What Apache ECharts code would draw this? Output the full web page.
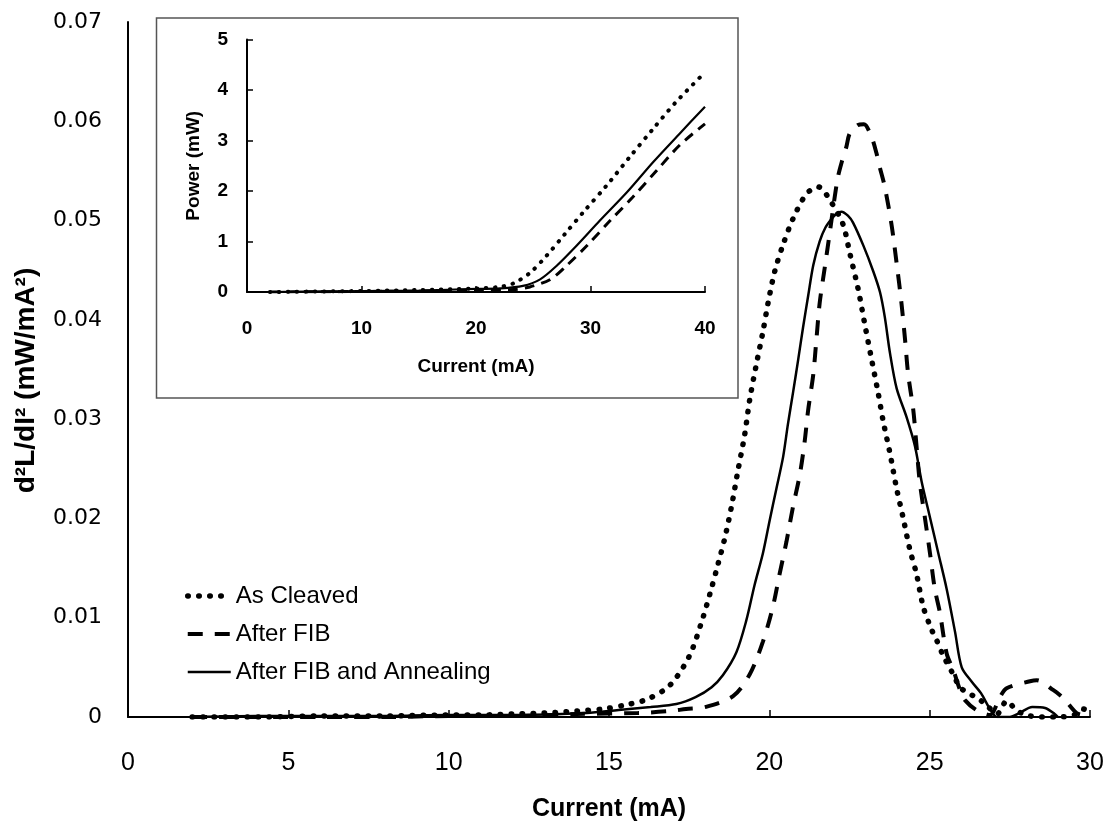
<!DOCTYPE html>
<html>
<head>
<meta charset="utf-8">
<script src="https://cdn.jsdelivr.net/npm/echarts@6/dist/echarts.min.js"></script>
<style>
html,body{margin:0;padding:0;background:#fff;}
#chart{width:1115px;height:832px;}
</style>
</head>
<body>
<div id="chart"></div>
<script>
// ---- Main chart: d2L/dI2 vs current ----
const cleavedI = [2, 4, 6, 8, 10, 11, 12, 13, 14, 14.8, 15.5, 16.2, 16.9, 17.5, 17.9, 18.19, 18.4, 18.61, 18.82, 19.02, 19.23, 19.39, 19.6, 19.8, 19.96, 20.17, 20.42, 20.74, 21.16, 21.52, 21.94, 22.3, 22.51, 22.77, 22.98, 23.19, 23.39, 23.55, 23.76, 23.97, 24.17, 24.38, 24.59, 24.8, 25.06, 25.21, 25.42, 25.7, 25.95, 26.2, 26.5, 26.8, 27.1, 27.4, 27.7, 28.0, 28.5, 29.0, 29.5, 29.8, 30.0];
const cleavedD = [0, 0, 0.0001, 0.0001, 0.0002, 0.0002, 0.0003, 0.0004, 0.0006, 0.0008, 0.0012, 0.0018, 0.0032, 0.0061, 0.0097, 0.0129, 0.0154, 0.0180, 0.0212, 0.0248, 0.0284, 0.0320, 0.0356, 0.0388, 0.0417, 0.0449, 0.0475, 0.0502, 0.0527, 0.0534, 0.0518, 0.0496, 0.0467, 0.0431, 0.0395, 0.0360, 0.0327, 0.0298, 0.0266, 0.0230, 0.0201, 0.0169, 0.0144, 0.0111, 0.0088, 0.0078, 0.0062, 0.0045, 0.0030, 0.0024, 0.0019, 0.0011, 0.0003, 0.0016, 0.0007, 0.0002, 0, 0, 0.0002, 0.0008, 0.0003];

const fibI = [2, 4, 6, 8, 10, 12, 14, 15.9, 16.9, 17.4, 18.0, 18.87, 19.39, 19.8, 20.11, 20.32, 20.53, 20.74, 20.95, 21.1, 21.21, 21.37, 21.47, 21.57, 21.73, 21.89, 22.04, 22.14, 22.25, 22.4, 22.51, 22.75, 22.95, 23.19, 23.34, 23.45, 23.6, 23.81, 23.97, 24.12, 24.23, 24.33, 24.49, 24.59, 24.69, 24.85, 25.01, 25.16, 25.32, 25.53, 25.74, 25.95, 26.1, 26.46, 26.88, 27.19, 27.4, 28.13, 28.34, 28.86, 29.17, 29.58, 29.8, 30.0];
const fibD = [0, 0, 0, 0, 0.0001, 0.0001, 0.0003, 0.0004, 0.0006, 0.0008, 0.0010, 0.0021, 0.0043, 0.0076, 0.0111, 0.0144, 0.0176, 0.0212, 0.0244, 0.0277, 0.0309, 0.0345, 0.0381, 0.0417, 0.0453, 0.0489, 0.0524, 0.0544, 0.0558, 0.0574, 0.0588, 0.0596, 0.0597, 0.0584, 0.0568, 0.0553, 0.0534, 0.0496, 0.0457, 0.0417, 0.0381, 0.0345, 0.0309, 0.0273, 0.0237, 0.0201, 0.0165, 0.0129, 0.0105, 0.0064, 0.0047, 0.0027, 0.0017, 0.0007, 0.0002, 0.0020, 0.0029, 0.0036, 0.0037, 0.0027, 0.0019, 0.0004, 0.0002, 0.0007];

const annealI = [2, 4, 6, 8, 10, 12.2, 14.3, 15.3, 16.3, 17.1, 17.7, 18.2, 18.55, 18.97, 19.28, 19.54, 19.8, 20.01, 20.22, 20.43, 20.58, 20.74, 20.9, 21.05, 21.21, 21.37, 21.57, 21.75, 21.95, 22.1, 22.25, 22.45, 22.61, 22.93, 23.24, 23.45, 23.6, 23.76, 23.97, 24.28, 24.54, 24.75, 25.01, 25.27, 25.53, 25.79, 26.0, 26.3, 26.6, 26.9, 27.1, 27.5, 27.8, 28.2, 28.6, 28.9, 29.0];
const annealD = [0, 0.0001, 0.0001, 0.0001, 0.0002, 0.0002, 0.0004, 0.0007, 0.0010, 0.0013, 0.0020, 0.0030, 0.0042, 0.0065, 0.0097, 0.0133, 0.0165, 0.0198, 0.0230, 0.0262, 0.0295, 0.0327, 0.0360, 0.0392, 0.0424, 0.0455, 0.0479, 0.0493, 0.0502, 0.0507, 0.0509, 0.0505, 0.0498, 0.0475, 0.0449, 0.0428, 0.0403, 0.0367, 0.0331, 0.0302, 0.0273, 0.0237, 0.0201, 0.0165, 0.0129, 0.0086, 0.0050, 0.0036, 0.0024, 0.0007, 0, 0, 0.0004, 0.0010, 0.0009, 0.0003, 0];

// ---- Inset: power vs current ----
const insetCleavedI = [2, 10, 15, 20, 22, 23.26, 24.72, 26.17, 27.77, 29.37, 31.41, 33.45, 35.5, 37.5, 40];
const insetCleavedP = [0, 0.02, 0.04, 0.07, 0.10, 0.17, 0.38, 0.72, 1.15, 1.58, 2.11, 2.68, 3.24, 3.77, 4.35];
const insetFibI = [2, 10, 15, 20, 23.3, 24.7, 26.5, 27.9, 29.7, 31.7, 33.7, 35.8, 37.8, 40];
const insetFibP = [0, 0.01, 0.02, 0.04, 0.05, 0.10, 0.25, 0.52, 0.92, 1.41, 1.88, 2.41, 2.91, 3.33];
const insetAnnealI = [2, 10, 15, 20, 22.1, 24.1, 25.6, 27.05, 28.8, 30.8, 33.2, 35.5, 37.8, 40];
const insetAnnealP = [0, 0.02, 0.03, 0.06, 0.07, 0.12, 0.25, 0.52, 0.92, 1.41, 1.98, 2.58, 3.14, 3.67];

const seriesNames = ['As Cleaved', 'After FIB', 'After FIB and Annealing'];

const zip = (xs, ys) => xs.map((x, i) => [x, ys[i]]);

const dotMain = {color: '#000', width: 5.5, type: [0.5, 10.5], cap: 'round'};
const dashMain = {color: '#000', width: 4, type: [15, 12], cap: 'butt'};
const solidMain = {color: '#000', width: 2.5, type: 'solid'};
const dotInset = {color: '#000', width: 4, type: [0.5, 8.5], cap: 'round'};
const dashInset = {color: '#000', width: 3, type: [10, 7], cap: 'butt'};
const solidInset = {color: '#000', width: 2.2, type: 'solid'};
const hiddenSymbol = {color: 'rgba(0,0,0,0)', borderWidth: 0, opacity: 0};

const chart = echarts.init(document.getElementById('chart'), null, {renderer: 'canvas'});

const tickFont = 'Liberation Sans';
const option = {
  backgroundColor: '#fff',
  animation: false,
  graphic: [{
    type: 'rect',
    z: -10,
    shape: {x: 156.5, y: 18, width: 581.5, height: 380},
    style: {fill: '#fff', stroke: '#555', lineWidth: 1.5}
  }],
  legend: {
    orient: 'vertical',
    left: 180,
    top: 579,
    itemWidth: 43,
    itemHeight: 14,
    itemGap: 14,
    textStyle: {fontFamily: tickFont, fontSize: 24, color: '#000'},
    data: [
      {name: seriesNames[0], lineStyle: dotMain, itemStyle: hiddenSymbol},
      {name: seriesNames[1], lineStyle: dashMain, itemStyle: hiddenSymbol},
      {name: seriesNames[2], lineStyle: solidMain, itemStyle: hiddenSymbol}
    ]
  },
  grid: [
    {left: 128, top: 22, width: 962, height: 695},
    {left: 247, top: 39.5, width: 458, height: 252.5}
  ],
  xAxis: [{
    gridIndex: 0, type: 'value', min: 0, max: 30, interval: 5,
    name: 'Current (mA)', nameLocation: 'middle', nameGap: 80,
    nameTextStyle: {fontFamily: tickFont, fontWeight: 'bold', fontSize: 25, color: '#000'},
    axisLine: {lineStyle: {color: '#000', width: 2}},
    axisTick: {inside: true, length: 7, lineStyle: {color: '#000', width: 1.5}},
    axisLabel: {margin: 34, fontFamily: tickFont, fontSize: 25, color: '#000'},
    splitLine: {show: false}
  }, {
    gridIndex: 1, type: 'value', min: 0, max: 40, interval: 10,
    name: 'Current (mA)', nameLocation: 'middle', nameGap: 65,
    nameTextStyle: {fontFamily: tickFont, fontWeight: 'bold', fontSize: 19, color: '#000'},
    axisLine: {lineStyle: {color: '#000', width: 2}},
    axisTick: {inside: true, length: 6, lineStyle: {color: '#000', width: 1.5}},
    axisLabel: {margin: 27, fontFamily: tickFont, fontWeight: 'bold', fontSize: 19, color: '#000'},
    splitLine: {show: false}
  }],
  yAxis: [{
    gridIndex: 0, type: 'value', min: 0, max: 0.07, interval: 0.01,
    name: 'd\u00b2L/dI\u00b2 (mW/mA\u00b2)', nameLocation: 'middle', nameGap: 88, nameRotate: 90,
    nameTextStyle: {fontFamily: tickFont, fontWeight: 'bold', fontSize: 28, color: '#000', padding: [0, 22, 0, 0]},
    axisLine: {show: true, lineStyle: {color: '#000', width: 2}},
    axisTick: {show: false},
    axisLabel: {margin: 26, fontFamily: 'DejaVu Sans', fontSize: 22, color: '#000',
      formatter: v => (v === 0 ? '0' : v.toFixed(2))},
    splitLine: {show: false}
  }, {
    gridIndex: 1, type: 'value', min: 0, max: 5, interval: 1,
    name: 'Power (mW)', nameLocation: 'middle', nameGap: 44, nameRotate: 90,
    nameTextStyle: {fontFamily: tickFont, fontWeight: 'bold', fontSize: 19, color: '#000'},
    axisLine: {show: true, lineStyle: {color: '#000', width: 2}},
    axisTick: {show: true, inside: true, length: 6, lineStyle: {color: '#000', width: 1.5}},
    axisLabel: {margin: 19, fontFamily: tickFont, fontWeight: 'bold', fontSize: 19, color: '#000'},
    splitLine: {show: false}
  }],
  series: [
    {name: seriesNames[0], type: 'line', xAxisIndex: 0, yAxisIndex: 0, data: zip(cleavedI, cleavedD), smooth: 0.3, symbol: 'none', lineStyle: dotMain, itemStyle: {color: '#000'}},
    {name: seriesNames[1], type: 'line', xAxisIndex: 0, yAxisIndex: 0, data: zip(fibI, fibD), smooth: 0.3, symbol: 'none', lineStyle: dashMain, itemStyle: {color: '#000'}},
    {name: seriesNames[2], type: 'line', xAxisIndex: 0, yAxisIndex: 0, data: zip(annealI, annealD), smooth: 0.3, symbol: 'none', lineStyle: solidMain, itemStyle: {color: '#000'}},
    {name: seriesNames[0], type: 'line', xAxisIndex: 1, yAxisIndex: 1, data: zip(insetCleavedI, insetCleavedP), smooth: 0.3, symbol: 'none', lineStyle: dotInset, itemStyle: {color: '#000'}},
    {name: seriesNames[1], type: 'line', xAxisIndex: 1, yAxisIndex: 1, data: zip(insetFibI, insetFibP), smooth: 0.3, symbol: 'none', lineStyle: dashInset, itemStyle: {color: '#000'}},
    {name: seriesNames[2], type: 'line', xAxisIndex: 1, yAxisIndex: 1, data: zip(insetAnnealI, insetAnnealP), smooth: 0.3, symbol: 'none', lineStyle: solidInset, itemStyle: {color: '#000'}}
  ]
};
chart.setOption(option);
</script>
</body>
</html>
